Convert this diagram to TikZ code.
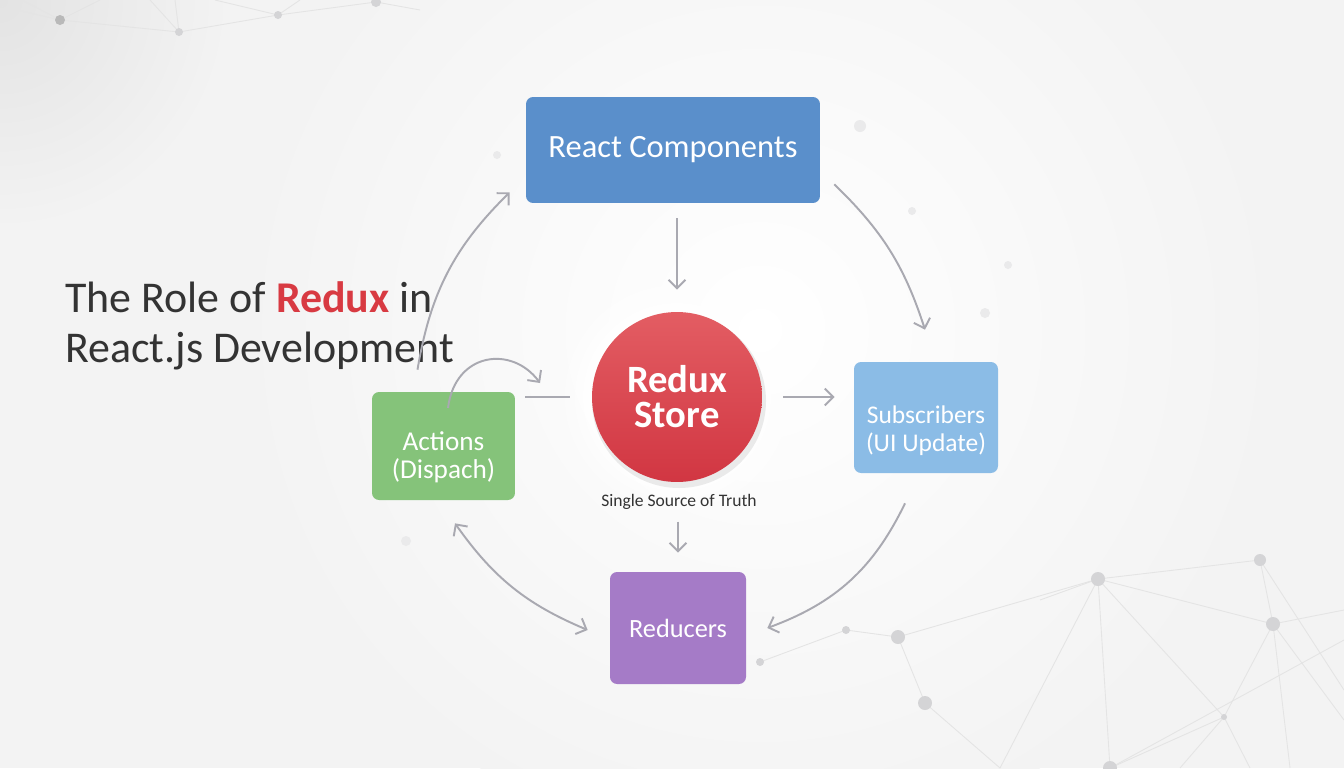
\documentclass[tikz,border=0pt]{standalone}
\usepackage{fontspec}
\setmainfont{Carlito}
\usepackage{xcolor}
\usetikzlibrary{arrows.meta, positioning, calc}

\definecolor{bggray}{HTML}{F3F3F3}
\definecolor{compblue}{HTML}{5A8FCB}
\definecolor{actgreen}{HTML}{85C37A}
\definecolor{subblue}{HTML}{8BBCE6}
\definecolor{redpurple}{HTML}{A57BC7}
\definecolor{storetop}{HTML}{E35D63}
\definecolor{storebot}{HTML}{D13642}
\definecolor{reduxred}{HTML}{D83A42}
\definecolor{titlegray}{HTML}{333333}
\definecolor{arrowgray}{HTML}{A9A9B1}
\definecolor{netgray}{HTML}{E4E4E4}
\definecolor{dotgray}{HTML}{D4D4D6}

\begin{document}
\begin{tikzpicture}[x=0.02cm, y=-0.02cm,
  box/.style={rectangle, rounded corners=4pt, text=white, align=center, inner sep=0pt},
  flow/.style={draw=arrowgray, line width=1.1pt, -{Straight Barb[length=1.7mm, width=3.4mm]}},
  net/.style={draw=netgray, line width=0.5pt},
  dot/.style={fill=dotgray}]
  \useasboundingbox (0,0) rectangle (1344,768);

  % Background
  \fill[bggray] (0,0) rectangle (1344,768);
  \shade[inner color=white, outer color=bggray] (760,330) circle (520);
  \shade[inner color=gray!22, outer color=bggray] (0,0) circle (230);

  % Network in the corners
  \foreach \n/\xx/\yy in {t1/60/20, t2/179/32, t3/278/15, t4/376/2,
      b1/1098/579, b2/1260/560, b3/1273/624, b4/1224/717, b5/1110/768,
      b6/898/637, b7/925/703, b8/846/630, b9/760/662,
      f1/860/126, f2/912/211, f3/985/313, f4/497/155, f5/406/541, f6/1008/265} {
    \coordinate (\n) at (\xx,\yy);
  }
  \foreach \a/\b in {t1/t2, t2/t3, t3/t4, b1/b2, b1/b3, b1/b5, b1/b4, b2/b3,
      b3/b4, b4/b5, b6/b1, b6/b7, b8/b6, b9/b8} {
    \draw[net] (\a) -- (\b);
  }
  \foreach \a/\xx/\yy in {t1/0/6, t1/22/0, t1/100/0, t2/150/0, t2/175/0, t3/215/0,
      t3/300/0, t4/420/10, b1/1040/600, b1/1000/768, b2/1344/690, b3/1344/610,
      b3/1344/720, b3/1290/768, b4/1250/768, b4/1180/768, b7/1000/768, b5/1344/640} {
    \draw[net] (\a) -- (\xx,\yy);
  }
  \fill[gray!55] (t1) circle (5);
  \foreach \n/\r in {t2/4, t3/4, t4/5, b1/7, b2/6, b3/7, b4/3, b5/7, b6/7, b7/7, b8/4, b9/4} {
    \fill[dot] (\n) circle (\r);
  }
  \foreach \n/\r in {f1/6, f2/4, f3/5, f4/4, f5/5, f6/4} {
    \fill[dotgray!50] (\n) circle (\r);
  }

  % Title
  \node[anchor=base west, align=left, text=titlegray, inner sep=0pt,
        font=\fontsize{25}{28}\selectfont] (title) at (65,362)
    {The Role of \textbf{\color{reduxred}Redux} in\\React.js Development};

  % Store with glow
  \foreach \r/\o in {112/0.35, 102/0.45, 94/0.6} {
    \fill[white, opacity=\o] (677,397) circle (\r);
  }
  \fill[black, opacity=0.08] (679,401) circle (87);
  \node[circle, minimum size=3.4cm, top color=storetop, bottom color=storebot,
        text=white, align=center, inner sep=0pt,
        font=\bfseries\fontsize{22}{20}\selectfont] (store) at (677,397) {Redux\\Store};
  \node[text=titlegray, font=\fontsize{10}{12}\selectfont, inner sep=1pt] (truth)
    at (679,502) {Single Source of Truth};

  % Boxes
  \node[box, fill=compblue, minimum width=5.88cm, minimum height=2.12cm,
        font=\fontsize{18.5}{22}\selectfont] (comp) at (673,150) {React Components};
  \node[box, fill=actgreen, minimum width=2.86cm, minimum height=2.16cm,
        label={[text=white, align=center, yshift=-6.5pt,
                font=\fontsize{15.5}{16}\selectfont]center:Actions\\(Dispach)}]
    (actions) at (443.5,446) {};
  \node[box, fill=subblue, minimum width=2.88cm, minimum height=2.22cm,
        label={[text=white, align=center, yshift=-7.5pt,
                font=\fontsize{14.5}{15.5}\selectfont]center:Subscribers\\(UI Update)}]
    (subs) at (926,417.5) {};
  \node[box, fill=redpurple, minimum width=2.72cm, minimum height=2.24cm,
        font=\fontsize{15}{18}\selectfont] (reducers) at (678,628) {Reducers};

  % Straight flows
  \draw[flow, shorten <=0.3cm, shorten >=0.44cm] (store.north |- comp.south) -- (store.north);
  \draw[flow, shorten <=0.42cm, shorten >=0.38cm] (store.east) -- (subs.west |- store.east);
  \draw[flow, -, shorten <=0.2cm, shorten >=0.44cm] (actions.east |- store.west) -- (store.west);
  \draw[flow, shorten <=0.2cm, shorten >=0.38cm] (reducers.north |- truth.south) -- (reducers.north);

  % Curved flows
  \coordinate (loopA) at (448,408);
  \coordinate (loopB) at (540,383);
  \draw[flow] (loopA) .. controls (455,352) and (512,345) .. (loopB);
  \draw[flow] ([shift={(-26,-22)}]actions.north) to[bend left=18]
    ([shift={(-16,-11)}]comp.south west);
  \draw[flow] ([shift={(14,-19)}]comp.south east) to[bend left=14]
    ([shift={(-1,-32)}]subs.north);
  \draw[flow] ([shift={(-21,30)}]subs.south) to[bend left=22]
    ([shift={(21,0)}]reducers.east);
  \draw[flow, {Straight Barb[length=1.7mm, width=3.4mm]}-{Straight Barb[length=1.7mm, width=3.4mm]}]
    ([shift={(11.5,23)}]actions.south) to[bend right=16]
    ([shift={(-22,2)}]reducers.west);
\end{tikzpicture}
\end{document}
